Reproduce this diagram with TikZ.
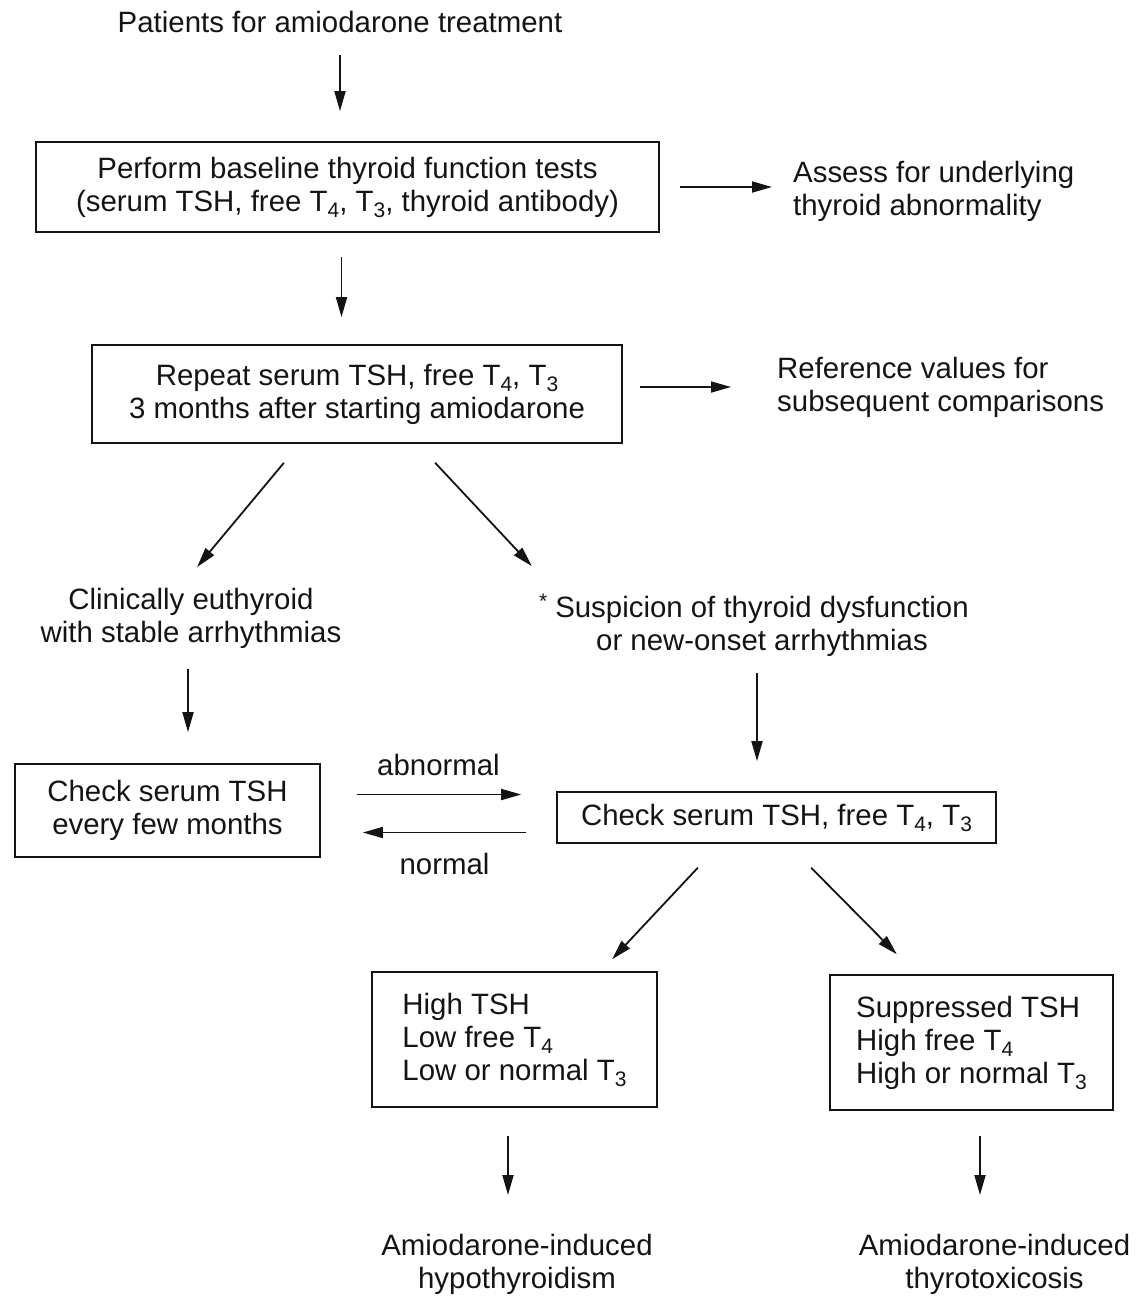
\documentclass[tikz,border=0pt]{standalone}
\usepackage{fontspec}
\setmainfont{Liberation Sans}
\usetikzlibrary{arrows.meta}

% Lowered index and raised mark
\newcommand{\lowidx}[1]{\raisebox{-6pt}{\fontsize{21}{21}\selectfont #1}}
\newcommand{\upmark}{\raisebox{9pt}{\fontsize{21}{21}\selectfont *}}

\begin{document}
\begin{tikzpicture}[
    x=1pt, y=-1pt,
    font=\fontsize{29.4}{33}\selectfont,
    every node/.style={inner sep=0pt, align=center, text=inkcolor},
    box/.style={draw=inkcolor, line width=1.7pt},
    arr/.style={-{Triangle[length=20pt, width=11pt]}, line width=1.8pt, draw=inkcolor},
]

% Colors
\definecolor{inkcolor}{HTML}{141414}

% Page frame
\useasboundingbox (0,0) rectangle (1148,1296);

% Top part
\node (title) at (340,22) {Patients for amiodarone treatment};

\node[box, minimum width=623pt, minimum height=90pt] (base) at (347.5,187)
    {Perform baseline thyroid function tests\\(serum TSH, free T\lowidx{4}, T\lowidx{3}, thyroid antibody)};

\node[anchor=west, align=left] (assess) at (793,191.5) {Assess for underlying\\thyroid abnormality};

\node[box, minimum width=530pt, minimum height=98pt] (rep) at (357,394)
    {Repeat serum TSH, free T\lowidx{4}, T\lowidx{3}\\3 months after starting amiodarone};

\node[anchor=west, align=left] (refv) at (777,387) {Reference values for\\subsequent comparisons};

% Middle part
\node (euth) at (191,618) {Clinically euthyroid\\with stable arrhythmias};
\node (susp) at (762,625)
    {\llap{\upmark\hspace{8pt}}Suspicion of thyroid dysfunction\\or new-onset arrhythmias};

\node[box, minimum width=305pt, minimum height=93pt] (chk) at (167.5,810.5) {Check serum TSH\\every few months};
\node[box, minimum width=439pt, minimum height=51pt] (chkall) at (776.5,817.5)
    {Check serum TSH, free T\lowidx{4}, T\lowidx{3}};

% Bottom part
\node[box, align=left, minimum width=285pt, minimum height=135pt] (hypo) at (514.5,1039.5)
    {High TSH\\Low free T\lowidx{4}\\Low or normal T\lowidx{3}};
\node[box, align=left, minimum width=283pt, minimum height=135pt] (toxi) at (971.5,1042.5)
    {Suppressed TSH\\High free T\lowidx{4}\\High or normal T\lowidx{3}};

\node (hypolbl) at (517,1264) {Amiodarone-induced\\hypothyroidism};
\node (toxilbl) at (994.5,1264) {Amiodarone-induced\\thyrotoxicosis};

% Arrows
\draw[arr, shorten <=22pt, shorten >=30pt] (title.south) -- (title.south |- base.north);
\draw[arr, shorten <=24pt, shorten >=27pt] ([xshift=-6pt]base.south) -- ([xshift=-6pt]base.south |- rep.north);
\draw[arr, shorten <=20pt, shorten >=21pt] (base.east) -- (base.east -| assess.west);
\draw[arr, shorten <=17pt, shorten >=46pt] ([yshift=7pt]rep.east) -- ([yshift=7pt]rep.east -| refv.west);

\draw[arr, shorten <=24.7pt, shorten >=26.8pt] ([xshift=-57.3pt]rep.south) -- ([xshift=-11.1pt]euth.north);
\draw[arr, shorten <=25.9pt, shorten >=37.6pt] ([xshift=60.4pt]rep.south) -- ([xshift=-204.5pt]susp.north);

\draw[arr, shorten <=21pt, shorten >=31pt] ([xshift=-3pt]euth.south) -- ([xshift=-3pt]euth.south |- chk.north);
\draw[arr, shorten <=17pt, shorten >=30pt] ([xshift=-5pt]susp.south) -- ([xshift=-5pt]susp.south |- chkall.north);

\draw[arr, shorten <=36pt, shorten >=35pt] ([yshift=16pt]chk.east) -- ([yshift=16pt]chk.east -| chkall.west)
    node[midway, above=17.5pt] (abn) {abnormal};
\draw[arr, shorten <=30pt, shorten >=42pt] ([yshift=-22pt]chk.east -| chkall.west) -- ([yshift=-22pt]chk.east)
    node[midway, below=20pt, xshift=6pt] (nrm) {normal};

\draw[arr, shorten <=32.7pt, shorten >=16.3pt] ([xshift=-56.3pt]chkall.south) -- ([xshift=86.4pt]hypo.north);
\draw[arr, shorten <=33.6pt, shorten >=28pt] ([xshift=11pt]chkall.south) -- ([xshift=-55pt]toxi.north);

\draw[arr, shorten <=28pt, shorten >=38.6pt] ([xshift=-6.5pt]hypo.south) -- ([xshift=-6.5pt]hypo.south |- hypolbl.north);
\draw[arr, shorten <=25pt, shorten >=38.6pt] ([xshift=8.5pt]toxi.south) -- ([xshift=8.5pt]toxi.south |- toxilbl.north);

\end{tikzpicture}
\end{document}
